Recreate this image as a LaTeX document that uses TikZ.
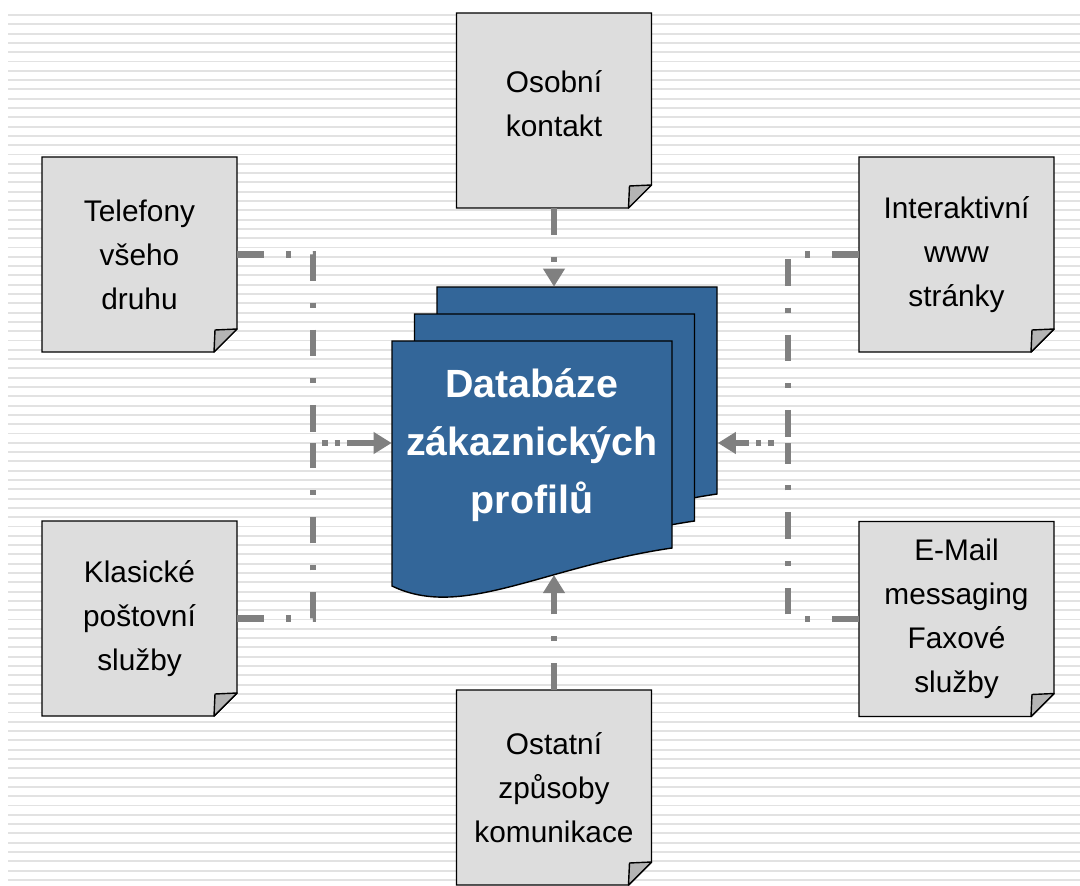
\documentclass[tikz,border=0pt]{standalone}
\usepackage{fontspec}
\setmainfont{Liberation Sans}
\usetikzlibrary{arrows.meta,calc}
\definecolor{notegray}{RGB}{221,221,221}
\definecolor{flapgray}{RGB}{180,180,180}
\definecolor{dbblue}{RGB}{51,102,153}
\definecolor{conngray}{RGB}{128,128,128}
\definecolor{stripegray}{RGB}{226,226,226}
\tikzset{
  >={Triangle[length=4.5mm,width=5.2mm]},
  note/.style={minimum width=4.875cm,minimum height=4.875cm,inner sep=0pt,align=center,
    font=\fontsize{21.2}{31.3}\selectfont},
  notebg/.style={fill=notegray,draw=black,line width=1pt},
  flap/.style={fill=flapgray,draw=black,line width=1pt,line join=round},
  sheetbg/.style={fill=dbblue,draw=black,line width=1pt},
  sh/.style={minimum width=7cm,minimum height=5.2cm,inner sep=0pt},
  conn/.style={draw=conngray,line width=4.3pt},
  dashdot/.style={dash pattern=on 19pt off 15.5pt on 3.6pt off 15.5pt},
  dotarr/.style={dash pattern=on 0pt off #1 on 4pt off 5pt on 4pt off 5pt on 40pt},
  stripe/.style={draw=stripegray,line width=1.3pt},
}
% one sheet of the document stack, top left corner at #1,#2
\newcommand\dbsheet[2]{\filldraw[sheetbg] (#1,#2) -- (#1+280,#2) -- (#1+280,#2+207)
  .. controls (#1+150,#2+226) and (#1+70,#2+279) .. (#1,#2+245) -- cycle;}

\begin{document}
\begin{tikzpicture}[x=0.025cm,y=-0.025cm]
\useasboundingbox (0,0) rectangle (1080,886);
\fill[white] (0,0) rectangle (1080,886);
\foreach \i in {0,...,93} \draw[stripe] (8,15+9.3*\i) -- (1080,15+9.3*\i);

% note sheets with turned corner
\foreach \cx/\cy in {139.5/254.5,554/110.5,956.5/254.5,139.5/618.5,956.5/619,554/787.5}{
  \filldraw[notebg] (\cx-97.5,\cy-97.5) -- (\cx+97.5,\cy-97.5) -- (\cx+97.5,\cy+74.5)
    -- (\cx+74.5,\cy+97.5) -- (\cx-97.5,\cy+97.5) -- cycle;
  \filldraw[flap] (\cx+97.5,\cy+74.5) -- (\cx+74.5,\cy+97.5) -- (\cx+75.5,\cy+75.5) -- cycle;
}
\node[note] (tel) at (139.5,254.5) {Telefony\\všeho\\druhu};
\node[note,text depth=10pt] (oso) at (554,110.5) {Osobní\\kontakt};
\node[note] (int) at (956.5,254.5) {Interaktivní\\www\\stránky};
\node[note] (kla) at (139.5,618.5) {Klasické\\poštovní\\služby};
\node[note] (ema) at (956.5,619) {E-Mail\\messaging\\Faxové\\služby};
\node[note] (ost) at (554,787.5) {Ostatní\\způsoby\\komunikace};

% database stack
\dbsheet{437}{287} \dbsheet{414.5}{314} \dbsheet{392}{341}
\node[sh] (bk) at (577.5,391) {};
\node[sh,text=white,align=center,font=\bfseries\fontsize{28}{41.2}\selectfont] (db) at (532,445)
  {Databáze\\zákaznických\\profilů};

\coordinate (lj) at (313,443);
\coordinate (rj) at (788,443);
\coordinate (wv) at (554,575);
\draw[conn,dashdot] (tel.east) -| (lj);
\draw[conn,dashdot] (kla.east) -| (lj);
\draw[conn,dashdot] (int.west) -| (rj);
\draw[conn,dashdot] (ema.west) -| (rj);
\draw[conn,dotarr=6.4pt,->] (lj) -- (lj -| db.west);
\draw[conn,dotarr=10pt,->] (rj) -- (rj -| bk.east);
\draw[conn,dashdot,->] (oso.south) -- (oso.south |- bk.north);
\draw[conn,dashdot,->] (ost.north) -- (wv);
\end{tikzpicture}
\end{document}
